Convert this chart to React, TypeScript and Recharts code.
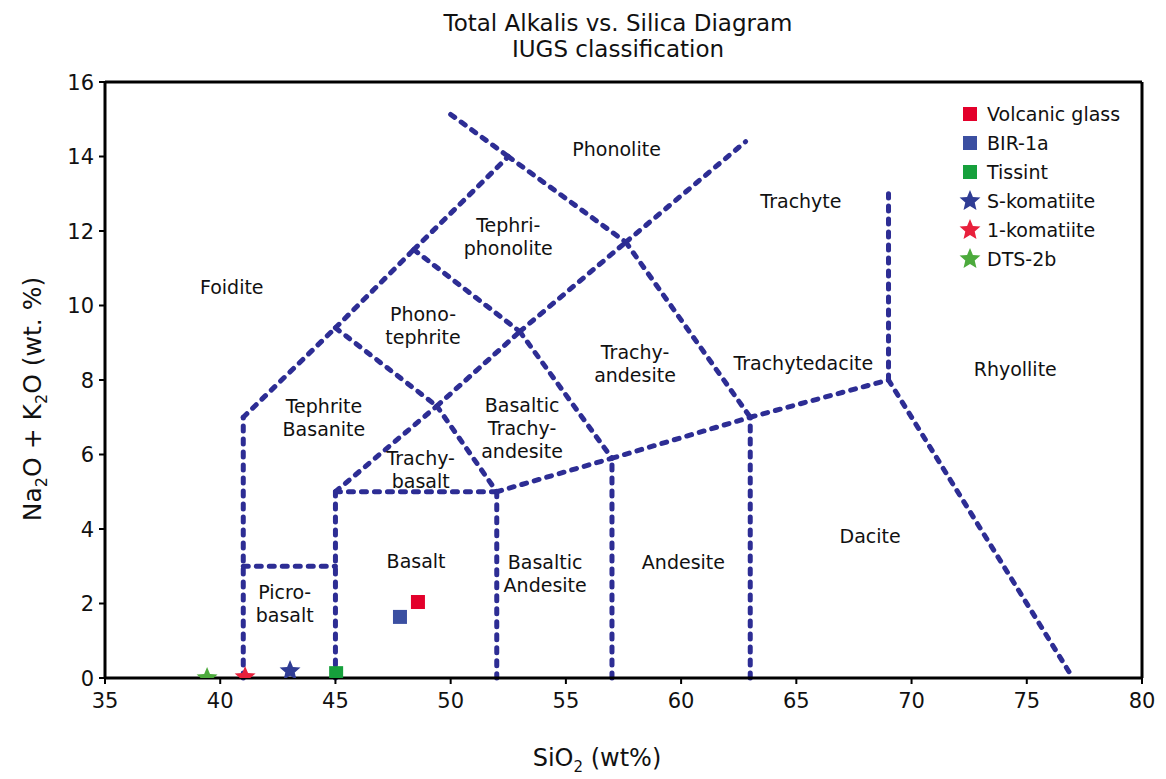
import React from 'react';
import {
  ScatterChart, Scatter, XAxis, YAxis, ReferenceLine,
} from 'recharts';

const xTicks = [35, 40, 45, 50, 55, 60, 65, 70, 75, 80];
const yTicks = [0, 2, 4, 6, 8, 10, 12, 14, 16];

// TAS field boundaries (SiO2, Na2O+K2O)
const foiditeLine = [[41, 0], [41, 7], [45, 9.4], [48.4, 11.5], [52.5, 14]];
const picroTop = [[41, 3], [45, 3]];
const basaltBox = [[45, 0], [45, 5], [52, 5], [52, 0]];
const trachyDiagonal = [[45, 5], [49.4, 7.3], [53, 9.3], [57.6, 11.7], [62.8, 14.4]];
const phonoTephriteBase = [[45, 9.4], [49.4, 7.3], [52, 5]];
const tephriPhonoBase = [[48.4, 11.5], [53, 9.3], [57, 5.9]];
const phonoliteLine = [[50, 15.13], [52.5, 14], [57.6, 11.7], [63, 7]];
const daciteTop = [[52, 5], [57, 5.9], [63, 7], [69, 8]];
const andesiteRight = [[57, 0], [57, 5.9]];
const daciteLeft = [[63, 0], [63, 7]];
const trachyteRight = [[69, 8], [69, 13]];
const rhyoliteLine = [[69, 8], [77, 0]];

const boundaries = [
  foiditeLine, picroTop, basaltBox, trachyDiagonal, phonoTephriteBase,
  tephriPhonoBase, phonoliteLine, daciteTop, andesiteRight, daciteLeft,
  trachyteRight, rhyoliteLine,
];

const fieldNames = [
  'Foidite', 'Phonolite', 'Tephri-|phonolite', 'Trachyte', 'Phono-|tephrite',
  'Trachy-|andesite', 'Trachytedacite', 'Rhyollite', 'Tephrite|Basanite',
  'Basaltic|Trachy-|andesite', 'Trachy-|basalt', 'Basalt', 'Basaltic|Andesite',
  'Andesite', 'Dacite', 'Picro-|basalt',
];
const fieldSiO2 = [40.5, 57.2, 52.5, 65.2, 48.8, 58.0, 65.3, 74.5, 44.5, 53.1, 48.7, 48.5, 54.1, 60.1, 68.2, 42.8];
const fieldAlk = [10.5, 14.2, 11.85, 12.8, 9.45, 8.45, 8.45, 8.3, 7.0, 6.7, 5.6, 3.15, 2.8, 3.1, 3.8, 2.0];

const sampleNames = ['Volcanic glass', 'BIR-1a', 'Tissint', 'S-komatiite', '1-komatiite', 'DTS-2b'];
const sampleSiO2 = [48.58, 47.8, 45.03, 43.03, 41.08, 39.43];
const sampleAlk = [2.04, 1.64, 0.13, 0.19, 0.03, 0.0];
const sampleColors = ['#e3002b', '#3b4fa1', '#16a03c', '#2f3c94', '#e8203c', '#4caa3c'];
const sampleShapes = ['square', 'square', 'square', 'star', 'star', 'star'];

const LINE_COLOR = '#2d2d94';
const FONT = '"DejaVu Sans", Arial, sans-serif';

const fieldData = fieldNames.map((name, i) => ({ x: fieldSiO2[i], y: fieldAlk[i], name }));

const starPoints = (cx: number, cy: number, r: number) => {
  const pts: string[] = [];
  for (let i = 0; i < 10; i++) {
    const rad = i % 2 === 0 ? r : r * 0.45;
    const a = -Math.PI / 2 + (i * Math.PI) / 5;
    pts.push(`${cx + rad * Math.cos(a)},${cy + rad * Math.sin(a)}`);
  }
  return pts.join(' ');
};

const Marker = ({ cx, cy, color, type }: any) => {
  if (cx == null || cy == null) return null;
  if (type === 'star') return <polygon points={starPoints(cx, cy, 11)} fill={color} />;
  return <rect x={cx - 7} y={cy - 7} width={14} height={14} fill={color} />;
};

const FieldLabel = (props: any) => {
  const { cx, cy, payload } = props;
  const lines = String(payload.name).split('|');
  const lh = 23;
  const top = cy - ((lines.length - 1) * lh) / 2;
  return (
    <text textAnchor="middle" fontFamily={FONT} fontSize={19} fill="#111">
      {lines.map((l, i) => (
        <tspan key={i} x={cx} y={top + i * lh} dy="0.36em">{l}</tspan>
      ))}
    </text>
  );
};

const LegendBox = () => (
  <div style={{ position: 'absolute', left: 958, top: 99, fontFamily: FONT, fontSize: 19, color: '#111' }}>
    {sampleNames.map((n, i) => (
      <div key={n} style={{ display: 'flex', alignItems: 'center', height: 29 }}>
        <svg width={24} height={24} style={{ marginRight: 5 }}>
          <Marker cx={12} cy={12} color={sampleColors[i]} type={sampleShapes[i]} />
        </svg>
        <span>{n}</span>
      </div>
    ))}
  </div>
);

const XTick = ({ x, y, payload }: any) => (
  <text x={x} y={y + 22} textAnchor="middle" fontFamily={FONT} fontSize={21} fill="#111">
    {payload.value}
  </text>
);

const YTick = ({ x, y, payload }: any) => (
  <text x={x - 3} y={y} dy="0.36em" textAnchor="end" fontFamily={FONT} fontSize={21} fill="#111">
    {payload.value}
  </text>
);

export default function App() {
  return (
    <div style={{ position: 'absolute', left: 0, top: 0, width: 1166, height: 779, background: '#fff' }}>
      <div style={{ position: 'absolute', left: 0, width: 1236, top: 10, textAlign: 'center', fontFamily: FONT, fontSize: 23, lineHeight: '26px', color: '#111' }}>
        Total Alkalis vs. Silica Diagram<br />IUGS classification
      </div>
      <ScatterChart width={1166} height={779} margin={{ top: 82, right: 24, bottom: 71, left: 0 }}>
        <XAxis
          type="number" dataKey="x" domain={[35, 80]} ticks={xTicks} height={30}
          axisLine={{ stroke: '#000', strokeWidth: 3 }} tickLine={{ stroke: '#000', strokeWidth: 2 }}
          tickSize={6} tick={<XTick />} allowDataOverflow
          label={{
            content: () => (
              <text x={597} y={766} textAnchor="middle" fontFamily={FONT} fontSize={24} fill="#111">
                SiO<tspan fontSize={15} dy={6}>2</tspan><tspan dy={-6}> (wt%)</tspan>
              </text>
            ),
          }}
        />
        <YAxis
          type="number" dataKey="y" domain={[0, 16]} ticks={yTicks} width={105}
          axisLine={{ stroke: '#000', strokeWidth: 3 }} tickLine={{ stroke: '#000', strokeWidth: 2 }}
          tickSize={6} tick={<YTick />} allowDataOverflow
          label={{
            content: () => (
              <text transform="translate(41,399) rotate(-90)" textAnchor="middle" fontFamily={FONT} fontSize={25} fill="#111">
                Na<tspan fontSize={16} dy={6}>2</tspan><tspan dy={-6}>O + K</tspan><tspan fontSize={16} dy={6}>2</tspan><tspan dy={-6}>O (wt. %)</tspan>
              </text>
            ),
          }}
        />
        <ReferenceLine y={16} stroke="#000" strokeWidth={3} />
        <ReferenceLine x={80} stroke="#000" strokeWidth={3} />
        {boundaries.flatMap((line, li) =>
          line.slice(1).map((p, i) => (
            <ReferenceLine
              key={`b${li}-${i}`}
              segment={[{ x: line[i][0], y: line[i][1] }, { x: p[0], y: p[1] }]}
              stroke={LINE_COLOR} strokeWidth={5} strokeDasharray="5 8" strokeLinecap="round"
            />
          ))
        )}
        <Scatter data={fieldData} shape={<FieldLabel />} legendType="none" isAnimationActive={false} />
        {sampleNames.map((n, i) => (
          <Scatter
            key={n} name={n} data={[{ x: sampleSiO2[i], y: sampleAlk[i] }]}
            fill={sampleColors[i]} legendType="none" isAnimationActive={false}
            shape={(p: any) => <Marker cx={p.cx} cy={p.cy} color={sampleColors[i]} type={sampleShapes[i]} />}
          />
        ))}
      </ScatterChart>
      <LegendBox />
    </div>
  );
}
